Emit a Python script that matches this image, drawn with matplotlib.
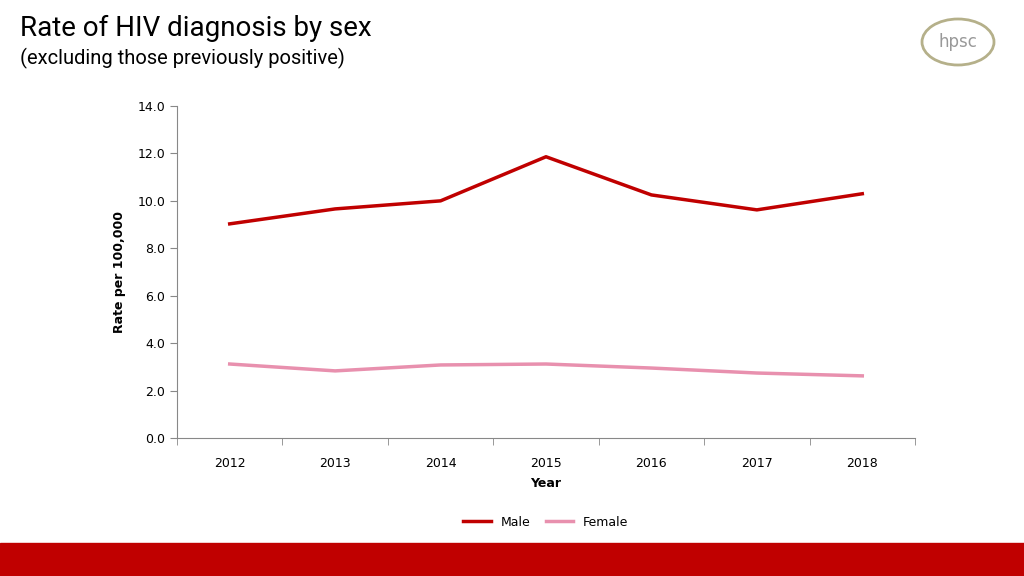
import matplotlib
matplotlib.use("Agg")
import matplotlib.pyplot as plt
from matplotlib.patches import Rectangle, Ellipse
from matplotlib import font_manager

years = ["2012", "2013", "2014", "2015", "2016", "2017", "2018"]
male = [9.03, 9.66, 10.0, 11.86, 10.25, 9.62, 10.3]
female = [3.12, 2.83, 3.08, 3.12, 2.95, 2.74, 2.62]
yticks = [0, 2, 4, 6, 8, 10, 12, 14]

names = {f.name for f in font_manager.fontManager.ttflist}
tfont = "Liberation Sans Narrow" if "Liberation Sans Narrow" in names else "Roboto"

fig = plt.figure(figsize=(10.24, 5.76), dpi=100)
W, H = 1024, 576
ax = fig.add_axes([177/W, 1-438/H, (915-177)/W, (438-106)/H])
x = list(range(len(years)))
ax.plot(x, male, color="#C00000", lw=2.5, label="Male")
ax.plot(x, female, color="#E890AE", lw=2.5, label="Female")
ax.set_xlim(-0.5, len(years)-0.5)
ax.set_ylim(0, 14)
ax.set_yticks(yticks)
ax.set_yticklabels([f"{v:.1f}" for v in yticks], fontsize=9)
ax.set_xticks(x)
ax.set_xticklabels(years, fontsize=9)
ax.set_xticks([i+0.5 for i in range(-1, len(years))], minor=True)
ax.tick_params(axis="x", which="major", length=0, pad=14)
ax.tick_params(axis="x", which="minor", length=5, direction="out", color="#888888")
ax.tick_params(axis="y", length=5, color="#888888")
for s in ["top", "right"]:
    ax.spines[s].set_visible(False)
for s in ["left", "bottom"]:
    ax.spines[s].set_color("#888888")
ax.set_xlabel("Year", fontsize=9, fontweight="bold", labelpad=5)
ax.set_ylabel("Rate per 100,000", fontsize=9, fontweight="bold", labelpad=8)
ax.legend(loc="upper center", bbox_to_anchor=(0.5, -0.2), ncol=2, frameon=False,
          fontsize=9, handlelength=2.2, columnspacing=1.2)

fig.text(20/W, 1-28/H, "Rate of HIV diagnosis by sex", fontsize=20, va="center", fontfamily=tfont)
fig.text(20/W, 1-58/H, "(excluding those previously positive)", fontsize=14.5, va="center", fontfamily=tfont)
fig.patches.append(Rectangle((0, 0), 1, 33/H, transform=fig.transFigure, color="#C00000"))
fig.patches.append(Ellipse((958/W, 1-42/H), 72/W, 46/H, transform=fig.transFigure,
                           fill=False, ec="#B5B08A", lw=2))
fig.text(958/W, 1-42/H, "hpsc", fontsize=12, color="#999999", ha="center", va="center")
fig.savefig("out.png", dpi=100)
